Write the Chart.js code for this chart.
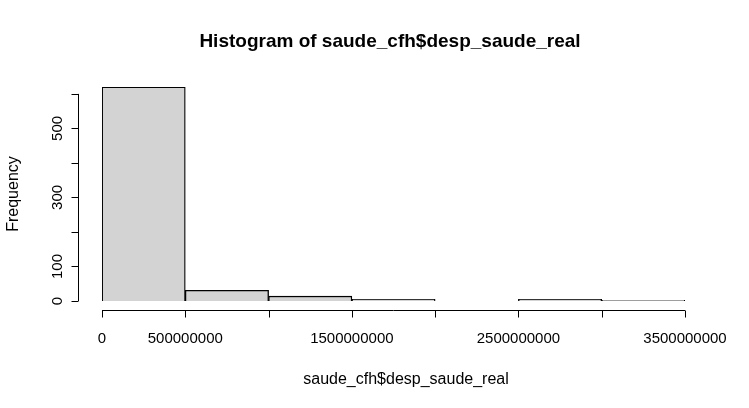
<!DOCTYPE html>
<html><head><meta charset="utf-8">
<script src="https://cdn.jsdelivr.net/npm/chart.js@4"></script>
<style>body{margin:0;background:#fff}</style>
</head><body>
<canvas id="c" width="749" height="408"></canvas>
<script>
const binStarts = [0, 5e8, 1e9, 1.5e9, 2e9, 2.5e9, 3e9];
const counts = [620, 31, 14, 5, 0, 5, 2];
const xTicks = [0, 5e8, 1e9, 1.5e9, 2e9, 2.5e9, 3e9, 3.5e9];
const xLabelled = [0, 5e8, 1.5e9, 2.5e9, 3.5e9];
const yTicks = [0, 100, 200, 300, 400, 500, 600];
const yLabelled = [0, 100, 300, 500];

const font = '"Liberation Sans", Arial, sans-serif';

// base-R style axes drawn from chart scales
const rAxes = {
    id: 'rAxes',
    afterDraw(chart) {
        const ctx = chart.ctx;
        const ys = chart.scales.y;
        const area = chart.chartArea;
        const xOf = v => area.left + (v / 3.5e9) * (area.right - area.left);
        ctx.save();
        ctx.strokeStyle = '#000';
        ctx.fillStyle = '#000';
        ctx.lineWidth = 1;
        // y axis
        const ax = 78.5;
        ctx.beginPath();
        ctx.moveTo(ax, ys.getPixelForValue(0));
        ctx.lineTo(ax, ys.getPixelForValue(600));
        yTicks.forEach(t => {
            const p = Math.round(ys.getPixelForValue(t)) + 0.5;
            ctx.moveTo(ax, p); ctx.lineTo(ax - 7, p);
        });
        ctx.stroke();
        ctx.font = '15px ' + font;
        ctx.textAlign = 'center';
        ctx.textBaseline = 'middle';
        yLabelled.forEach(t => {
            ctx.save();
            ctx.translate(58, ys.getPixelForValue(t));
            ctx.rotate(-Math.PI / 2);
            ctx.fillText(String(t), 0, 0);
            ctx.restore();
        });
        // x axis
        const ay = 310.5;
        ctx.beginPath();
        ctx.moveTo(xOf(0), ay); ctx.lineTo(xOf(3.5e9), ay);
        xTicks.forEach(t => {
            const p = Math.round(xOf(t)) + 0.5;
            ctx.moveTo(p, ay); ctx.lineTo(p, ay + 7);
        });
        ctx.stroke();
        xLabelled.forEach(t => ctx.fillText(String(t), xOf(t), 339));
        // titles
        ctx.font = '16px ' + font;
        ctx.fillText('saude_cfh$desp_saude_real', 406, 380);
        ctx.save();
        ctx.translate(14, 194);
        ctx.rotate(-Math.PI / 2);
        ctx.fillText('Frequency', 0, 0);
        ctx.restore();
        ctx.font = 'bold 19px ' + font;
        ctx.fillText('Histogram of saude_cfh$desp_saude_real', 390, 42);
        ctx.restore();
    }
};

new Chart(document.getElementById('c'), {
    type: 'bar',
    data: {
        labels: binStarts.map(String),
        datasets: [{
            data: counts,
            backgroundColor: '#d3d3d3',
            borderColor: '#000',
            borderWidth: 1.3,
            barPercentage: 1,
            categoryPercentage: 1
        }]
    },
    options: {
        responsive: false,
        animation: false,
        layout: { padding: { left: 102, right: 64, top: 87, bottom: 107 } },
        plugins: { legend: { display: false }, tooltip: { enabled: false } },
        scales: {
            x: { display: false },
            y: { display: false, min: 0, max: 620 }
        }
    },
    plugins: [rAxes]
});
</script>
</body></html>
